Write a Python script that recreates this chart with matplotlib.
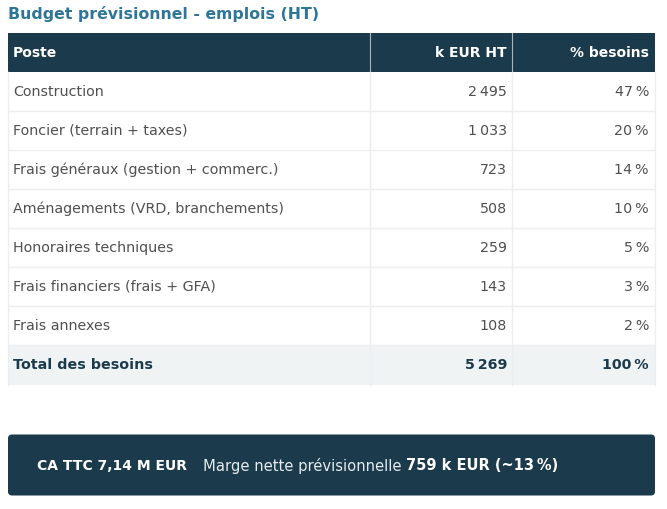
import matplotlib.pyplot as plt
from matplotlib.patches import Rectangle, FancyBboxPatch

# données
title = "Budget prévisionnel - emplois (HT)"
headers = ["Poste", "k EUR HT", "% besoins"]
postes = ["Construction", "Foncier (terrain + taxes)", "Frais généraux (gestion + commerc.)",
          "Aménagements (VRD, branchements)", "Honoraires techniques",
          "Frais financiers (frais + GFA)", "Frais annexes"]
montants = [2495, 1033, 723, 508, 259, 143, 108]
parts = [47, 20, 14, 10, 5, 3, 2]
total_label = "Total des besoins"
total_montant = 5269
total_part = 100
ca_ttc = "7,14"
marge = 759
marge_pct = 13

NAVY = "#1b3a4b"
BLUE = "#2e7597"
GREY_TXT = "#505050"
LINE = "#eceff1"
FONT = "DejaVu Sans"
FS = 10.3

def fmt(n):
    return f"{n:,}".replace(",", "\u2009")

W, H = 667, 510
fig = plt.figure(figsize=(W / 100, H / 100), dpi=100)
ax = fig.add_axes([0, 0, 1, 1])
ax.set_xlim(0, W)
ax.set_ylim(H, 0)
ax.axis("off")

x0, x1, x2, x3 = 8, 370, 512, 655
row_h = 39
y_head = 33.5

# titre
ax.text(x0, 14.5, title, color=BLUE, fontsize=11.3, fontweight="bold", family=FONT,
        va="center", ha="left")

# en-tête
ax.add_patch(Rectangle((x0, y_head), x3 - x0, row_h, color=NAVY, lw=0))
for xs in (x1, x2):
    ax.plot([xs, xs], [y_head, y_head + row_h], color="#a9b6bd", lw=0.8)
yc = y_head + row_h / 2
ax.text(x0 + 5, yc, headers[0], color="white", fontsize=10, fontweight="bold", family=FONT, va="center")
ax.text(x2 - 5, yc, headers[1], color="white", fontsize=10, fontweight="bold", family=FONT, va="center", ha="right")
ax.text(x3 - 6, yc, headers[2], color="white", fontsize=10, fontweight="bold", family=FONT, va="center", ha="right")

# lignes
y = y_head + row_h
for lab, m, p in zip(postes, montants, parts):
    yc = y + row_h / 2
    ax.text(x0 + 5, yc, lab, color=GREY_TXT, fontsize=FS, family=FONT, va="center")
    ax.text(x2 - 5, yc, fmt(m), color=GREY_TXT, fontsize=FS, family=FONT, va="center", ha="right")
    ax.text(x3 - 6, yc, f"{p}\u2009%", color=GREY_TXT, fontsize=FS, family=FONT, va="center", ha="right")
    ax.plot([x0, x3], [y + row_h, y + row_h], color=LINE, lw=1)
    y += row_h

# total
ax.add_patch(Rectangle((x0, y), x3 - x0, row_h + 1, color="#eff3f4", lw=0))
yc = y + row_h / 2
ax.text(x0 + 5, yc, total_label, color=NAVY, fontsize=FS, fontweight="bold", family=FONT, va="center")
ax.text(x2 - 5, yc, fmt(total_montant), color=NAVY, fontsize=FS, fontweight="bold", family=FONT, va="center", ha="right")
ax.text(x3 - 6, yc, f"{total_part}\u2009%", color=NAVY, fontsize=FS, fontweight="bold", family=FONT, va="center", ha="right")
y_end = y + row_h + 1

# séparateurs verticaux
for xs in (x0, x1, x2, x3):
    ax.plot([xs, xs], [y_head + row_h, y_end], color=LINE, lw=1)

# encadré bas
ax.add_patch(FancyBboxPatch((x0 + 4, 439.5), x3 - x0 - 8, 53,
                            boxstyle="round,pad=4,rounding_size=4", color=NAVY, lw=0))
yb = 466
ax.text(37, yb, f"CA TTC {ca_ttc} M EUR", color="white", fontsize=10, fontweight="bold", family=FONT, va="center")
t = ax.text(203, yb, "Marge nette prévisionnelle ", color="#e6ecef", fontsize=10.6, family=FONT, va="center")
fig.canvas.draw()
bb = t.get_window_extent()
xe = ax.transData.inverted().transform((bb.x1, 0))[0]
ax.text(xe, yb, f"{marge} k EUR (~{marge_pct}\u2009%)", color="white", fontsize=10.5, fontweight="bold",
        family=FONT, va="center")

fig.savefig("out.png", dpi=100)
